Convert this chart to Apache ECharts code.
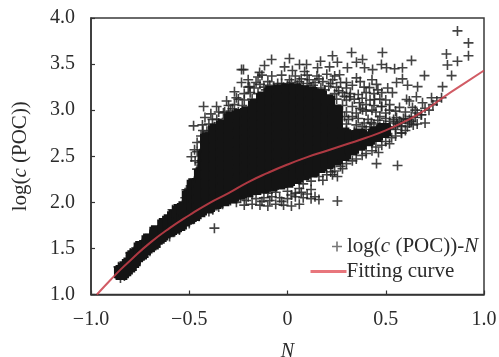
<!DOCTYPE html>
<html>
<head>
<meta charset="utf-8">
<style>
  html, body { margin: 0; padding: 0; background: #fff; }
  #chart { width: 499px; height: 357px; }
</style>
<script src="https://cdn.jsdelivr.net/npm/echarts@6/dist/echarts.min.js"></script>
</head>
<body>
<div id="chart"></div>
<script>
// tick labels
const xTickLabels = { '-1': '\u22121.0', '-0.5': '\u22120.5', '0': '0', '0.5': '0.5', '1': '1.0' };
const yTickLabels = { '1': '1.0', '1.5': '1.5', '2': '2.0', '2.5': '2.5', '3': '3.0', '3.5': '3.5', '4': '4.0' };

// fitting curve [N, log(c(POC))]
const fitCurve = [
  [-0.97, 1.0], [-0.9, 1.16], [-0.85, 1.27], [-0.8, 1.37], [-0.7, 1.56], [-0.6, 1.72], [-0.5, 1.86],
  [-0.4, 1.99], [-0.3, 2.1], [-0.2, 2.22], [-0.1, 2.32], [0, 2.41], [0.1, 2.49], [0.2, 2.56],
  [0.3, 2.63], [0.4, 2.7], [0.5, 2.78], [0.6, 2.88], [0.7, 3.0], [0.8, 3.15], [0.9, 3.29], [1.0, 3.43]
];

// the solid black part of the cloud, too dense to read single samples
const densePoints = [
  [-0.845,1.24],[-0.825,1.28],[-0.805,1.32],[-0.785,1.37],[-0.785,1.40],[-0.765,1.43],[-0.745,1.46],[-0.745,1.50],
  [-0.725,1.51],[-0.705,1.54],[-0.705,1.58],[-0.685,1.57],[-0.665,1.62],[-0.665,1.67],[-0.645,1.65],[-0.625,1.69],
  [-0.625,1.75],[-0.60,1.71],[-0.60,1.79],[-0.575,1.74],[-0.575,1.84],[-0.55,1.77],[-0.55,1.90],[-0.525,1.82],
  [-0.525,1.93],[-0.5,1.85],[-0.5,1.96],[-0.5,2.06],[-0.475,1.88],[-0.475,1.98],[-0.475,2.08],[-0.475,2.18],
  [-0.448,2.20],[-0.448,2.10],[-0.448,2.01],[-0.448,1.92],[-0.438,2.30],[-0.42,2.40],[-0.42,2.50],
  [-0.407,2.68],[-0.407,2.58],[-0.407,2.48],[-0.407,2.38],[-0.407,2.28],[-0.407,2.18],[-0.407,2.07],[-0.407,1.96],
  [-0.366,2.77],[-0.366,2.67],[-0.366,2.57],[-0.366,2.47],[-0.366,2.37],[-0.366,2.27],[-0.366,2.17],[-0.366,2.08],[-0.366,2.01],
  [-0.326,2.82],[-0.326,2.72],[-0.326,2.62],[-0.326,2.52],[-0.326,2.42],[-0.326,2.32],[-0.326,2.22],[-0.326,2.13],[-0.326,2.04],
  [-0.285,2.90],[-0.285,2.80],[-0.285,2.70],[-0.285,2.60],[-0.285,2.50],[-0.285,2.40],[-0.285,2.30],[-0.285,2.20],[-0.285,2.13],[-0.285,2.07],
  [-0.244,2.93],[-0.244,2.83],[-0.244,2.73],[-0.244,2.63],[-0.244,2.53],[-0.244,2.43],[-0.244,2.33],[-0.244,2.23],[-0.244,2.11],
  [-0.204,2.96],[-0.204,2.86],[-0.204,2.76],[-0.204,2.66],[-0.204,2.56],[-0.204,2.46],[-0.204,2.36],[-0.204,2.26],[-0.204,2.14],
  [-0.163,3.04],[-0.163,2.94],[-0.163,2.84],[-0.163,2.74],[-0.163,2.64],[-0.163,2.54],[-0.163,2.44],[-0.163,2.34],[-0.163,2.24],[-0.163,2.16],
  [-0.122,3.12],[-0.122,3.02],[-0.122,2.92],[-0.122,2.82],[-0.122,2.72],[-0.122,2.62],[-0.122,2.52],[-0.122,2.42],[-0.122,2.32],[-0.122,2.18],
  [-0.081,3.18],[-0.081,3.08],[-0.081,2.98],[-0.081,2.88],[-0.081,2.78],[-0.081,2.68],[-0.081,2.58],[-0.081,2.48],[-0.081,2.38],[-0.081,2.28],[-0.081,2.20],
  [-0.041,3.20],[-0.041,3.10],[-0.041,3.00],[-0.041,2.90],[-0.041,2.80],[-0.041,2.70],[-0.041,2.60],[-0.041,2.50],[-0.041,2.40],[-0.041,2.30],[-0.041,2.22],
  [0,3.21],[0,3.11],[0,3.01],[0,2.91],[0,2.81],[0,2.71],[0,2.61],[0,2.51],[0,2.41],[0,2.31],[0,2.24],
  [0.041,3.21],[0.041,3.11],[0.041,3.01],[0.041,2.91],[0.041,2.81],[0.041,2.71],[0.041,2.61],[0.041,2.51],[0.041,2.41],[0.041,2.28],
  [0.081,3.19],[0.081,3.09],[0.081,2.99],[0.081,2.89],[0.081,2.79],[0.081,2.69],[0.081,2.59],[0.081,2.49],[0.081,2.39],[0.081,2.32],
  [0.122,3.17],[0.122,3.07],[0.122,2.97],[0.122,2.87],[0.122,2.77],[0.122,2.67],[0.122,2.57],[0.122,2.47],[0.122,2.35],
  [0.163,3.15],[0.163,3.05],[0.163,2.95],[0.163,2.85],[0.163,2.75],[0.163,2.65],[0.163,2.55],[0.163,2.47],[0.163,2.40],
  [0.204,3.09],[0.204,2.99],[0.204,2.89],[0.204,2.79],[0.204,2.69],[0.204,2.59],[0.204,2.51],[0.204,2.44],
  [0.244,2.98],[0.244,2.88],[0.244,2.78],[0.244,2.68],[0.244,2.58],[0.244,2.48],
  [0.285,2.73],[0.285,2.63],[0.285,2.53],[0.326,2.70],[0.326,2.59],[0.366,2.72],[0.366,2.64],[0.407,2.69],[0.448,2.735],[0.489,2.78]
];

// single samples that can still be read around the cloud
const samplePoints = [
  [0.865,3.86],[0.921,3.73],[0.921,3.59],[0.809,3.61],[0.865,3.53],[0.814,3.49],[0.835,3.375],[0.789,3.255],[0.697,3.375],[0.631,3.54],
  [0.585,3.46],[0.585,3.34],[0.483,3.625],[0.382,3.55],[0.326,3.625],[0.229,3.59],[0.168,3.53],[0.01,3.56],[-0.081,3.55],[-0.117,3.485],
  [-0.142,3.41],[-0.015,3.47],[0.061,3.495],[0.097,3.495],[0.025,3.43],[0.087,3.42],[0.153,3.46],[0.214,3.47],[0.254,3.52],[0.305,3.46],
  [0.392,3.46],[0.433,3.44],[0.478,3.495],[0.504,3.46],[0.545,3.45],[0.351,3.52],[0.351,3.35],[0.3,3.30],[0.265,3.385],[0.453,3.28],
  [0.534,3.19],[0.611,3.27],[0.662,3.255],[0.555,3.30],[0.656,3.145],[0.733,3.135],[0.687,3.08],[0.784,3.135],[0.606,3.115],[0.519,3.0],
  [0.316,3.145],[0.366,3.08],[0.29,2.93],[0.443,3.115],[0.417,3.245],[0.382,3.005],[0.478,3.04],[0.555,2.92],[0.427,2.865],[0.58,2.755],
  [0.519,2.635],[0.463,2.54],[0.453,2.42],[0.56,2.40],[0.28,2.365],[0.254,2.28],[0.229,2.30],[0.254,2.015],[0.682,2.95],[0.636,3.03],
  [-0.234,3.44],[-0.224,3.44],[-0.234,3.30],[-0.193,3.255],[-0.427,3.04],[-0.361,3.04],[-0.326,2.97],[-0.28,3.015],[-0.26,3.135],[-0.478,2.83],
  [-0.433,2.84],[-0.382,2.90],[-0.489,2.495],[-0.473,2.57],[-0.372,2.82],[-0.397,2.755],[-0.448,2.43],[-0.372,1.72],[-0.585,1.92],[-0.514,2.135],
  [-0.16,3.3],[-0.1,3.31],[-0.05,3.29],[0.02,3.3],[0.06,3.31],[0.1,3.29],[0.14,3.3],[0.18,3.31],[0.22,3.29],
  [-0.13,3.38],[-0.08,3.37],[-0.03,3.38],[0.04,3.37],[0.1,3.38],[0.15,3.37],[0.2,3.39],[0.24,3.37],
  [-0.2,3.25],[-0.17,3.24],[-0.12,3.25],[-0.07,3.26],[-0.02,3.25],[0.03,3.24],[0.08,3.26],[0.12,3.25],[0.17,3.24],[0.21,3.26],[0.25,3.25],[0.3,3.24],
  [-0.22,3.18],[-0.19,3.19],[-0.15,3.18],[0.24,3.18],[0.28,3.19],[0.32,3.18],[0.36,3.17],[0.4,3.19],[0.44,3.18],[0.48,3.19],
  [-0.25,3.12],[-0.22,3.11],[-0.18,3.12],[0.25,3.12],[0.3,3.11],[0.34,3.12],[0.38,3.13],[0.42,3.11],[0.47,3.12],[0.5,3.11],
  [-0.3,3.05],[-0.27,3.06],[-0.23,3.05],[0.28,3.05],[0.33,3.04],[0.4,3.06],[0.44,3.05],[0.48,3.04],[0.52,3.06],
  [-0.32,2.98],[-0.29,2.99],[-0.25,2.98],[0.3,2.98],[0.35,2.97],[0.4,2.99],[0.45,2.98],[0.5,2.97],[0.55,2.99],[0.6,2.98],
  [-0.36,2.9],[-0.31,2.91],[0.31,2.9],[0.36,2.91],[0.41,2.9],[0.46,2.89],[0.5,2.91],[0.54,2.9],[0.59,2.91],
  [-0.4,2.85],[-0.35,2.86],[-0.33,2.84],[0.3,2.85],[0.35,2.84],[0.39,2.86],[0.44,2.85],[0.49,2.84],[0.56,2.85],[0.62,2.86],[0.66,2.85],[0.7,2.86],
  [-0.43,2.78],[-0.41,2.77],[-0.37,2.78],[0.3,2.78],[0.34,2.77],[0.4,2.79],[0.45,2.78],[0.5,2.77],[0.55,2.79],
  [-0.46,2.65],[-0.43,2.66],[-0.46,2.55],[-0.47,2.45],[-0.46,2.36],[-0.47,2.25],[-0.5,2.15],[-0.48,2.14],[-0.52,2.05],
  [0.72,3.0],[0.74,3.06],[0.76,3.1],[0.7,3.02],[0.66,2.97],[0.63,2.93],[0.6,2.9],[0.57,2.88],[0.54,2.86],[0.52,2.82],[0.65,3.0],[0.68,2.95],
  [-0.24,2.05],[-0.2,2.06],[-0.16,2.04],[-0.12,2.05],[-0.08,2.06],[-0.04,2.05],[0,2.04],[0.04,2.06],[0.08,2.05],[0.12,2.04],[0.16,2.03],
  [-0.22,1.97],[-0.18,1.98],[-0.14,1.97],[-0.1,1.96],[-0.06,1.98],[-0.02,1.97],[0.02,1.96],[0.06,1.98],
  [-0.1,2.1],[-0.06,2.11],[0,2.12],[0.04,2.1],
  [0.08,2.2],[0.12,2.23],[0.16,2.28],[0.2,2.3],[0.24,2.34],[0.3,2.42],[0.35,2.47],[0.4,2.53],[0.45,2.6],[0.5,2.66],[0.55,2.72],[0.6,2.78],[0.64,2.84],
  [-0.86,1.3],[-0.85,1.18],[-0.83,1.2],[-0.8,1.45],[-0.8,1.28],[-0.75,1.53],[-0.75,1.38],[-0.7,1.65],[-0.7,1.47],[-0.65,1.72],[-0.65,1.56],
  [-0.6,1.8],[-0.6,1.63],[-0.55,1.9],[-0.55,1.7],[-0.5,2.0],[-0.5,1.77],[-0.45,1.85],[-0.4,1.9],[-0.35,1.95],
  [-0.14,3.28],[-0.11,3.22],[-0.09,3.27],[-0.06,3.22],[-0.03,3.29],[0,3.27],[0.01,3.33],[0.05,3.27],[0.07,3.34],[0.11,3.33],[0.13,3.27],[0.16,3.34],
  [0.19,3.22],[0.23,3.33],[0.26,3.21],[0.27,3.3],[0.29,3.15],[0.33,3.27],[0.37,3.31],[0.39,3.25],[0.43,3.33],[0.46,3.22],[0.51,3.24],[0.37,3.02],
  [0.43,3.0],[0.47,2.93],[0.33,2.93],[0.38,2.82],[0.42,2.82],[0.47,2.82],[0.52,2.88],[0.58,2.83],[0.61,2.82],[0.63,2.88],[0.57,3.03],[0.62,3.1],
  [-0.27,3.2],[-0.31,3.1],[-0.35,2.98],[-0.39,2.96],[-0.44,2.72],[-0.42,2.92],[-0.3,2.95],[-0.15,3.36],[-0.2,3.33],
  [-0.21,2.02],[-0.26,2.0],[-0.18,2.09],[-0.13,2.01],[-0.09,2.02],[-0.03,2.01],[0.02,2.08],[0.07,2.11],[0.1,2.09],[0.14,2.06],[0.06,2.15],[0.12,2.14],
  [-0.33,1.98],[-0.29,2.02],[-0.38,1.92],[0.18,2.24],[0.22,2.33],[0.27,2.39],[0.33,2.45],[0.38,2.51],[0.43,2.56],[0.48,2.62],[0.53,2.7],[0.58,2.75],
  [0.52,2.8],[0.55,2.82],[0.58,2.86],[0.62,2.9],[0.65,2.92]
];

const FONT = '"Liberation Serif", "Times New Roman", serif';
const INK = '#2b2b2b';
const PLUS = 'path://M4.2,0h1.6v4.2h4.2v1.6h-4.2v4.2h-1.6v-4.2h-4.2v-1.6h4.2z';
const BLOCK = 'path://M1.5,0h11v1.5h1.5v11h-1.5v1.5h-11v-1.5h-1.5v-11h1.5z';

const richText = {
  a: { fontFamily: FONT, fontSize: 21, color: INK },
  i: { fontFamily: FONT, fontSize: 21, color: INK, fontStyle: 'italic' }
};

const chart = echarts.init(document.getElementById('chart'));
chart.setOption({
  animation: false,
  backgroundColor: '#fff',
  grid: {
    left: 91, right: 15, top: 18, bottom: 62.5,
    outerBoundsMode: 'none', // keep the plot box where it is, labels run close to the edge
    show: true, borderColor: '#3a3a3a', borderWidth: 1.5, backgroundColor: 'transparent'
  },
  xAxis: {
    type: 'value', min: -1, max: 1, interval: 0.5,
    name: 'N', nameLocation: 'middle', nameGap: 47,
    nameTextStyle: { fontFamily: FONT, fontSize: 20, fontStyle: 'italic', color: INK },
    splitLine: { show: false },
    axisLine: { onZero: false, lineStyle: { color: '#333', width: 1.5 } },
    axisTick: { inside: true, length: 4, lineStyle: { color: '#333', width: 1.2 } },
    axisLabel: { margin: 15, fontFamily: FONT, fontSize: 20, color: INK, formatter: v => xTickLabels[v] }
  },
  yAxis: {
    type: 'value', min: 1, max: 4, interval: 0.5,
    name: '{a|log(}{i|c}{a| (POC))}', nameLocation: 'middle', nameGap: 60,
    nameTextStyle: { rich: richText },
    splitLine: { show: false },
    axisLine: { onZero: false, lineStyle: { color: '#333', width: 1.5 } },
    axisTick: { inside: true, length: 4, lineStyle: { color: '#333', width: 1.2 } },
    axisLabel: { margin: 16, fontFamily: FONT, fontSize: 20, color: INK, formatter: v => yTickLabels[v] }
  },
  legend: [
    {
      data: [{ name: 'log(c (POC))-N', icon: PLUS, itemStyle: { color: '#777', opacity: 1 } }],
      left: 332, top: 236, padding: 0, itemWidth: 10, itemHeight: 10, itemGap: 0,
      formatter: () => '{a|log(}{i|c}{a| (POC))-}{i|N}',
      textStyle: { rich: richText }
    },
    {
      data: [{ name: 'Fitting curve', itemStyle: { opacity: 0 }, lineStyle: { color: '#e8767c', width: 3, opacity: 1 } }],
      left: 309, top: 261, padding: 0, itemWidth: 36, itemHeight: 14,
      formatter: '{a|{name}}',
      textStyle: { rich: richText, padding: [0, 0, 0, -5] }
    }
  ],
  series: [
    {
      name: 'log(c (POC))-N', type: 'scatter', data: samplePoints,
      symbol: PLUS, symbolSize: 10, itemStyle: { color: '#222', opacity: 0.85 }, z: 2
    },
    {
      name: 'dense', type: 'scatter', data: densePoints,
      symbol: BLOCK, symbolSize: 15, itemStyle: { color: '#141414', opacity: 1 }, z: 3
    },
    {
      name: 'Fitting curve', type: 'line', data: fitCurve, smooth: true, showSymbol: false,
      lineStyle: { color: '#c9404a', width: 2, opacity: 0.85 },
      itemStyle: { color: '#c9404a' }, z: 4
    }
  ]
});
</script>
</body>
</html>
